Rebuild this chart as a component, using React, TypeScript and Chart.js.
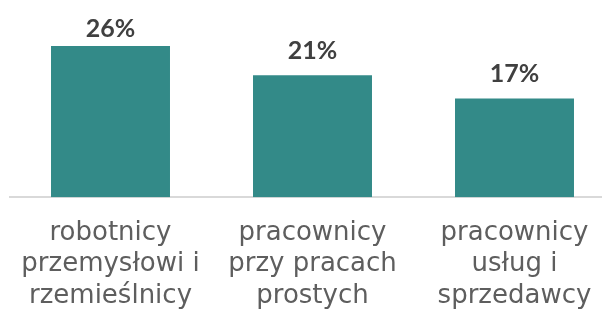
import React, { useEffect, useRef } from "react";
import { Chart, registerables } from "chart.js";

Chart.register(...registerables);

const categories: string[][] = [
  ["robotnicy", "przemysłowi i", "rzemieślnicy"],
  ["pracownicy", "przy pracach", "prostych"],
  ["pracownicy", "usług i", "sprzedawcy"],
];
const values: number[] = [26, 21, 17];
const yMax = 31;

const barColor = "#338a88";

const valueLabels = {
  id: "valueLabels",
  afterDatasetsDraw(chart: any) {
    const { ctx, chartArea } = chart;
    const meta = chart.getDatasetMeta(0);
    ctx.save();
    ctx.font = "bold 25px Lato";
    ctx.fillStyle = "#404040";
    ctx.textAlign = "center";
    ctx.textBaseline = "alphabetic";
    meta.data.forEach((bar: any, i: number) => {
      const v = chart.data.datasets[0].data[i];
      const y = Math.max(bar.y - 16.5, chartArea.top + 20);
      ctx.fillText(v + "%", bar.x, y);
    });
    ctx.restore();
  },
};

export default function App() {
  const ref = useRef<HTMLCanvasElement | null>(null);
  useEffect(() => {
    if (!ref.current) return;
    const chart = new Chart(ref.current, {
      type: "bar",
      data: {
        labels: categories,
        datasets: [
          {
            data: values,
            backgroundColor: barColor,
            categoryPercentage: 1,
            barPercentage: 0.589,
          },
        ],
      },
      options: {
        responsive: false,
        animation: false,
        layout: { padding: { left: 9.5, right: 0.5, top: 17, bottom: 0 } },
        plugins: { legend: { display: false }, tooltip: { enabled: false } },
        scales: {
          x: {
            grid: { display: false },
            border: { display: true, color: "#d9d9d9", width: 2 },
            ticks: {
              color: "#5e5e5e",
              font: { family: "DejaVu Sans", size: 26, lineHeight: 1.215 },
              padding: 12,
              maxRotation: 0,
              autoSkip: false,
            },
          },
          y: { display: false, min: 0, max: yMax },
        },
      },
      plugins: [valueLabels],
    });
    return () => chart.destroy();
  }, []);
  return (
    <div
      style={{
        position: "absolute",
        left: 0,
        top: 0,
        width: 602,
        height: 309,
        overflow: "hidden",
        background: "#fff",
      }}
    >
      <canvas ref={ref} width={616} height={324} style={{ display: "block" }} />
    </div>
  );
}
